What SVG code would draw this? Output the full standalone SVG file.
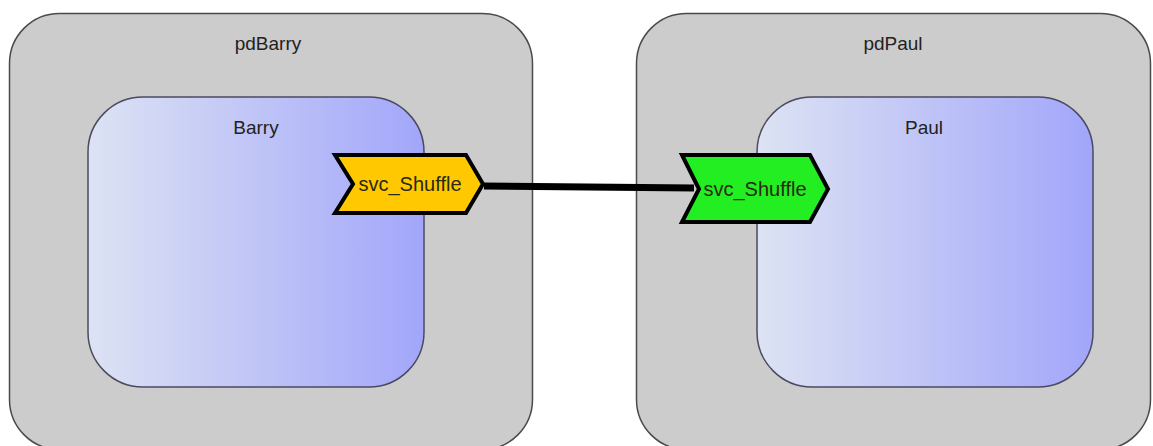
<svg xmlns="http://www.w3.org/2000/svg" width="1153" height="446" viewBox="0 0 1153 446">
  <defs>
    <linearGradient id="partFill" x1="0" y1="0" x2="1" y2="0">
      <stop offset="0" stop-color="#dde3f3"/>
      <stop offset="1" stop-color="#a2a6fa"/>
    </linearGradient>
    <style>
      .device { fill: #cccccc; stroke: #4a4a4a; stroke-width: 1.5; }
      .part { fill: url(#partFill); stroke: #4a4a60; stroke-width: 1.5; }
      .label { font-family: "Liberation Sans", Arial, sans-serif; font-size: 19px; fill: #222222; text-anchor: middle; }
      .port { stroke: #000000; stroke-width: 4; stroke-linejoin: miter; }
      .portText { font-family: "Liberation Sans", Arial, sans-serif; font-size: 20px; fill: #2a2a10; text-anchor: middle; }
      .link { stroke: #000000; stroke-width: 7; fill: none; }
    </style>
  </defs>

  <rect width="1153" height="446" fill="#ffffff"/>

  <g id="pdBarry">
    <rect class="device" x="9.5" y="13.5" width="523" height="436" rx="50" ry="50"/>
    <text class="label" x="268" y="50">pdBarry</text>
  </g>

  <g id="pdPaul">
    <rect class="device" x="636.5" y="13.5" width="514" height="436" rx="50" ry="50"/>
    <text class="label" x="893" y="50">pdPaul</text>
  </g>

  <g id="Barry">
    <rect class="part" x="88" y="97" width="336" height="290" rx="55" ry="55"/>
    <text class="label" x="256" y="134">Barry</text>
  </g>

  <g id="Paul">
    <rect class="part" x="757" y="97" width="336" height="290" rx="55" ry="55"/>
    <text class="label" x="924" y="134">Paul</text>
  </g>

  <g id="connectors">
    <line class="link" x1="484" y1="186" x2="694" y2="188"/>
  </g>

  <g id="Barry_svc_Shuffle">
    <polygon class="port" fill="#ffc800" points="335,155 466,155 483,184 466,213 335,213 353,184"/>
    <text class="portText" x="410" y="191">svc_Shuffle</text>
  </g>

  <g id="Paul_svc_Shuffle">
    <polygon class="port" fill="#22ee22" points="682,155 810,155 828,189 810,222 682,222 699,189"/>
    <text class="portText" x="755" y="196">svc_Shuffle</text>
  </g>
</svg>
